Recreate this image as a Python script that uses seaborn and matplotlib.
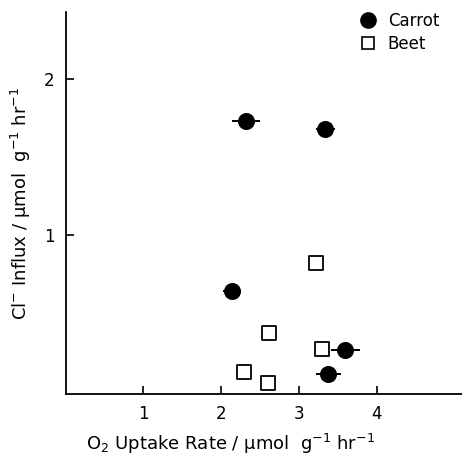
import matplotlib
matplotlib.use("Agg")
import matplotlib.pyplot as plt
import seaborn as sns
import pandas as pd
from matplotlib.lines import Line2D

# Data
carrot_x = [2.32, 3.34, 2.14, 3.60, 3.38]
carrot_y = [1.73, 1.68, 0.64, 0.26, 0.11]
carrot_xerr = [0.18, 0.12, 0.12, 0.19, 0.16]
beet_x = [3.22, 2.62, 3.30, 2.29, 2.61]
beet_y = [0.82, 0.37, 0.27, 0.12, 0.05]
x_ticks = [1, 2, 3, 4]
y_ticks = [1, 2]

sns.set_theme(style="white")
plt.rcParams['font.family'] = ['DejaVu Sans']
plt.rcParams['text.color'] = 'black'

df = pd.DataFrame({
    "x": carrot_x + beet_x,
    "y": carrot_y + beet_y,
    "species": ["Carrot"] * len(carrot_x) + ["Beet"] * len(beet_x),
})

fig = plt.figure(figsize=(4.62, 4.59), dpi=100)
ax = fig.add_axes([0.142, 0.1416, 0.858, 0.832])

ax.errorbar(carrot_x, carrot_y, xerr=carrot_xerr, fmt="none", ecolor="black",
            elinewidth=1.4, capsize=0, zorder=2)
sns.scatterplot(data=df[df.species == "Carrot"], x="x", y="y", ax=ax,
                marker="o", s=150, color="black", edgecolor="black", linewidth=0,
                zorder=3, legend=False)
sns.scatterplot(data=df[df.species == "Beet"], x="x", y="y", ax=ax,
                marker="s", s=100, facecolor="white", edgecolor="black", linewidth=1.3,
                zorder=3, legend=False)

ax.set_xlim(0, 5.1)
ax.set_ylim(-0.02, 2.43)
ax.set_xticks(x_ticks)
ax.set_yticks(y_ticks)
ax.set_xticklabels([str(t) for t in x_ticks])
ax.set_yticklabels([str(t) for t in y_ticks])
ax.tick_params(axis="both", direction="in", length=6, width=1.2, color="black",
               labelsize=12, labelcolor="black", left=True, bottom=True, pad=8)
for s in ["top", "right"]:
    ax.spines[s].set_visible(False)
for s in ["left", "bottom"]:
    ax.spines[s].set_color("black")
    ax.spines[s].set_linewidth(1.3)

ax.set_xlabel("O$_2$ Uptake Rate / μmol  g$^{-1}$ hr$^{-1}$", fontsize=13, color="black", labelpad=6)
ax.xaxis.set_label_coords(0.415, -0.1)
ax.set_ylabel("Cl$^{-}$ Influx / μmol  g$^{-1}$ hr$^{-1}$", fontsize=13, color="black", labelpad=8)

handles = [
    Line2D([], [], marker="o", linestyle="none", markersize=11, markerfacecolor="black",
           markeredgecolor="black", label="Carrot"),
    Line2D([], [], marker="s", linestyle="none", markersize=9, markerfacecolor="white",
           markeredgecolor="black", markeredgewidth=1.2, label="Beet"),
]
leg = ax.legend(handles=handles, loc="upper right", bbox_to_anchor=(0.98, 1.04), frameon=False,
                fontsize=12, handletextpad=0.6, labelspacing=0.3, handlelength=1.2)
for t in leg.get_texts():
    t.set_color("black")

fig.savefig("out.png", dpi=100)
